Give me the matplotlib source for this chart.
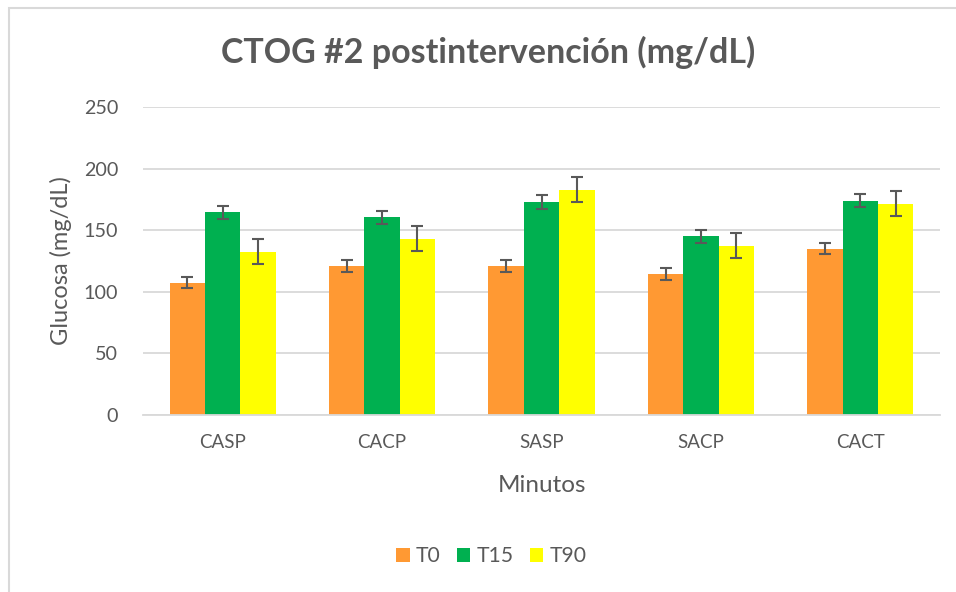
import numpy as np
import matplotlib.pyplot as plt
from matplotlib.patches import Rectangle

# Data
categories = ['CASP', 'CACP', 'SASP', 'SACP', 'CACT']
series = ['T0', 'T15', 'T90']
t0 = [107.5, 121, 121, 114.5, 135]
t15 = [164.5, 160.5, 173, 145, 174]
t90 = [132.5, 143, 183, 137.5, 171.5]
t0_err = [4.7, 4.6, 4.7, 4.6, 4.6]
t15_err = [5.4, 5.3, 5.4, 5.3, 5.5]
t90_err = [10.1, 10.1, 10.1, 10.1, 10.1]

colors = ['#FF9933', '#00B050', '#FFFF00']
text_color = '#595959'
grid_color = '#D9D9D9'

plt.rcParams['font.family'] = ['Lato', 'DejaVu Sans']

fig = plt.figure(figsize=(9.56, 5.92), dpi=100)
ax = fig.add_axes([143 / 956, 1 - 415 / 592, 797 / 956, 308 / 592])

x = np.arange(len(categories))
width = 0.222
values = [t0, t15, t90]
errors = [t0_err, t15_err, t90_err]
for i, (vals, errs) in enumerate(zip(values, errors)):
    ax.bar(x + (i - 1) * width, vals, width, yerr=errs, color=colors[i],
           label=series[i], capsize=4.3, zorder=2,
           error_kw=dict(ecolor=text_color, elinewidth=1.5, capthick=1.5))

ax.set_xlim(-0.5, len(categories) - 0.5)
ax.set_ylim(0, 250)
ax.set_yticks(np.arange(0, 251, 50))
ax.set_xticks(x)
ax.set_xticklabels(categories)
ax.grid(axis='y', color=grid_color, linewidth=1.3, zorder=0)
ax.set_axisbelow(True)
for s in ['top', 'right', 'left']:
    ax.spines[s].set_visible(False)
ax.spines['bottom'].set_color(grid_color)
ax.spines['bottom'].set_linewidth(1.3)
ax.tick_params(axis='both', length=0, labelsize=13.5, labelcolor=text_color)
ax.tick_params(axis='y', pad=18, labelsize=14.2)
ax.tick_params(axis='x', pad=14)

ax.set_xlabel('Minutos', fontsize=17.5, color=text_color, labelpad=17)
ax.set_ylabel('Glucosa (mg/dL)', fontsize=17, color=text_color, labelpad=8)

fig.text(0.5105, 1 - 52 / 592, 'CTOG #2 postintervención (mg/dL)', ha='center',
         va='center', fontsize=24.5, fontweight='bold', color=text_color)

fig.legend(loc='center', bbox_to_anchor=(0.514, 1 - 556 / 592), ncol=3,
           frameon=False, fontsize=15.2, labelcolor=text_color,
           handlelength=0.65, handleheight=0.65, handletextpad=0.3,
           columnspacing=0.75)

# chart area border (only top and left edges visible in the crop)
fig.add_artist(Rectangle((9 / 956, -0.5), 2, 0.5 + (592 - 8) / 592,
                         transform=fig.transFigure, fill=False,
                         edgecolor=grid_color, linewidth=1.5))

fig.savefig('out.png', dpi=100)
